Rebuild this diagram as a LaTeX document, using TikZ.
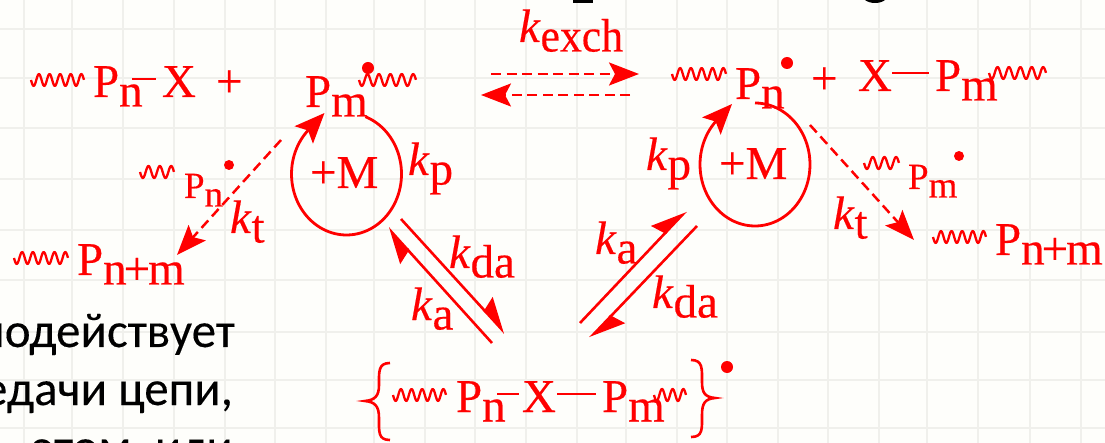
\documentclass[tikz,border=0pt]{standalone}
\usepackage{fontspec}
\setmainfont[FakeBold=0.35]{Liberation Serif}
\newfontfamily\blk[FakeBold=0.2]{Carlito}
\usetikzlibrary{arrows.meta}
\definecolor{bgc}{HTML}{FEFEFB}
\definecolor{gridc}{HTML}{F0F0EC}
\newcommand{\lo}[1]{\raisebox{-9.5pt}{#1}}
\newcommand{\los}[1]{\raisebox{-8.5pt}{#1}}
\newcommand{\ki}{\textit{k}}
\newcommand{\wv}[4]{\draw[wave] plot[domain=0:1,samples=70,smooth] ({#1+(#2-#1)*\x},{#3+6*sin(360*#4*\x)});}
\tikzset{
  lab/.style={anchor=base west,inner sep=0pt,outer sep=0pt,text=red,font=\fontsize{47}{47}\selectfont},
  labs/.style={lab,font=\fontsize{37}{37}\selectfont},
  blktext/.style={anchor=base east,inner sep=0pt,text=black,font=\blk\fontsize{49}{49}\selectfont},
  rdot/.style={circle,fill=red,inner sep=0pt,minimum size=#1},
  wave/.style={draw=red,line width=2.3pt,line join=round},
  loopc/.style={draw=red,line width=2.8pt,-{Stealth[length=30pt,width=25pt,inset=6pt]}},
  dashar/.style={draw=red,line width=2.5pt,dash pattern=on 10pt off 5.5pt,-{Stealth[length=30pt,width=23pt,inset=6pt]}},
  solidar/.style={draw=red,line width=2.6pt,-{Stealth[harpoon,length=32pt,width=30pt,inset=4pt]}},
  solidln/.style={draw=red,line width=2.6pt},
  bondln/.style={draw=red,line width=2.8pt},
  gridl/.style={draw=gridc,line width=2pt},
}
\begin{document}
\begin{tikzpicture}[x=1pt,y=-1pt]
\useasboundingbox (0,0) rectangle (1105,443);
\clip (0,0) rectangle (1105,443);
\fill[bgc] (0,0) rectangle (1105,443);
% grid
\foreach \gx in {24,72,123,174,225,275,326,374,425,475,526,577,626,677,727,778,828,879,927,978,1030,1081}
  \draw[gridl] (\gx,0) -- (\gx,443);
\foreach \gy in {29,78,128,179,230,280,332,380,428}
  \draw[gridl] (0,\gy) -- (1105,\gy);
% fragments of the black heading
\fill[black] (573,0) rectangle (593,3);
\fill[black] (865,0) .. controls (870,4) and (880,4) .. (885,0) -- cycle;
% black text, cut off by the frame
\node[blktext] (t1) at (235,347) {модействует};
\node[blktext] (t2) at (233,405) {едачи цепи,};
\node[blktext] (t3) at (233,463) {этом, или};

% left, top row
\wv{31}{84}{80}{5}
\node[lab] (pn1) at (93,97) {P\lo{n}};
\coordinate (b1a) at (132,79); \coordinate (b1b) at (156,79);
\draw[bondln] (b1a) -- (b1b);
\node[lab] (x1) at (162,97) {X};
\node[lab] (plus1) at (216,97) {+};
\node[lab] (pm1) at (305,107) {P\lo{m}};
\node[rdot=12pt] (d1) at (368,68) {};
\wv{359}{416}{80}{5}

% right, top row
\wv{672}{726}{74}{5}
\node[lab] (pn2) at (735,99) {P\lo{n}};
\node[rdot=12pt] (d2) at (787,63) {};
\node[lab] (plus2) at (811,94) {+};
\node[lab] (x2) at (858,91) {X};
\coordinate (b2a) at (892,73); \coordinate (b2b) at (929,73);
\draw[bondln] (b2a) -- (b2b);
\node[lab] (pm2) at (935,91) {P\lo{m}};
\wv{989}{1046}{73}{5}

% exchange
\node[lab] (kex) at (519,42) {\ki\lo{\scalebox{.93}[1]{exch}}};
\coordinate (ea) at (491,74); \coordinate (eb) at (639,74);
\coordinate (ec) at (630,95); \coordinate (ed) at (481,95);
\draw[dashar] (ea) -- (eb);
\draw[dashar] (ec) -- (ed);

% left loop
\coordinate (tip1) at (324.5,113);
\draw[loopc] plot[domain=-70:225,samples=90,smooth] ({346.5+55*cos(\x)},{174+61*sin(\x)}) -- (tip1);
\node[lab] (m1) at (310,188) {+M};
\node[lab] (kp1) at (408,175) {\ki\lo{p}};

% left termination
\wv{140}{174}{172}{3}
\node[labs] (pns) at (184,198) {P\los{n}};
\node[rdot=10pt] (d3) at (229,165) {};
\coordinate (ta) at (281,140); \coordinate (tb) at (177,255);
\draw[dashar] (ta) -- (tb);
\node[lab] (kt1) at (230,233) {\ki\lo{t}};
\wv{14}{68}{258}{5}
\node[lab] (pnm1) at (77,275) {P\lo{n\kern-3pt+\kern-2pt m}};

% left pair
\coordinate (la) at (492,343); \coordinate (lb) at (388,228);
\coordinate (lc) at (401,219); \coordinate (ld) at (505,333);
\draw[solidar] (la) -- (lb);
\draw[solidar] (lc) -- (ld);
\node[lab] (kda1) at (449,268) {\ki\lo{da}};
\node[lab] (ka1) at (411,320) {\ki\lo{a}};

% right loop
\coordinate (tip2) at (732,104);
\draw[loopc] plot[domain=-90:225,samples=90,smooth] ({755+55*cos(\x)},{164.5+61.5*sin(\x)}) -- (tip2);
\node[lab] (m2) at (719,179) {+M};
\node[lab] (kp2) at (646,170) {\ki\lo{p}};

% right termination
\coordinate (ua) at (810,125); \coordinate (ub) at (914,240);
\draw[dashar] (ua) -- (ub);
\wv{864}{899}{163}{3}
\node[labs] (pms) at (908,189) {P\los{m}};
\node[rdot=10pt] (d4) at (959,156) {};
\node[lab] (kt2) at (833,229) {\ki\lo{t}};
\wv{933}{986}{237}{5}
\node[lab] (pnm2) at (995,255) {P\lo{n\kern-3pt+\kern-2pt m}};

% right pair
\coordinate (ra) at (580,323); \coordinate (rb) at (686,211);
\coordinate (rc) at (697,226); \coordinate (rd) at (590,338);
\draw[solidar] (ra) -- (rb);
\draw[solidar] (rc) -- (rd);
\node[lab] (ka2) at (595,254) {\ki\lo{a}};
\node[lab] (kda2) at (652,308) {\ki\lo{da}};

% bottom complex
\draw[solidln] (390,363) .. controls (378,363) and (379,372) .. (379,385)
  .. controls (379,396) and (375,400) .. (365,401)
  .. controls (375,402) and (379,406) .. (379,418)
  .. controls (379,432) and (378,440) .. (390,440);
\draw[solidln] (691,360) .. controls (703,360) and (702,369) .. (702,382)
  .. controls (702,393) and (705,397) .. (715,398)
  .. controls (705,399) and (702,403) .. (702,415)
  .. controls (702,429) and (703,437) .. (691,437);
\wv{393}{446}{395}{5}
\node[lab] (pn3) at (456,412) {P\lo{n}};
\coordinate (b3a) at (497,394); \coordinate (b3b) at (519,394);
\draw[bondln] (b3a) -- (b3b);
\node[lab] (x3) at (522,412) {X};
\coordinate (b4a) at (557,394); \coordinate (b4b) at (596,394);
\draw[bondln] (b4a) -- (b4b);
\node[lab] (pm3) at (602,412) {P\lo{m}};
\wv{654}{686}{395}{3}
\node[rdot=12pt] (d5) at (727,367) {};
\end{tikzpicture}
\end{document}
